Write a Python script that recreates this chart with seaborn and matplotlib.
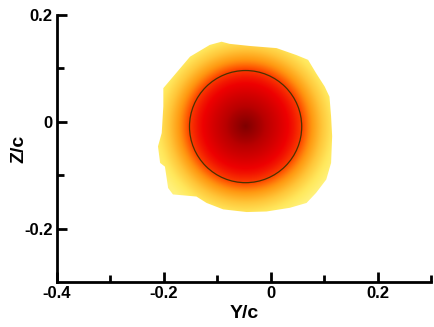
import numpy as np
import matplotlib
matplotlib.use("Agg")
import matplotlib.pyplot as plt
import seaborn as sns
from matplotlib.colors import LinearSegmentedColormap
from matplotlib.patches import Polygon, Circle
from matplotlib.ticker import FixedLocator, FixedFormatter

# Vortex core location and core radius (normalised by chord)
core_y, core_z = -0.047, -0.009
core_radius = 0.105

# Radial distribution of normalised axial vorticity about the core
profile_r = [0.0, 0.03, 0.06, 0.09, 0.105, 0.12, 0.14, 0.16, 0.18, 0.22]
profile_w = [1.0, 0.92, 0.82, 0.71, 0.64, 0.49, 0.33, 0.18, 0.06, 0.0]

# Outline of the measured region
edge_y = [-0.201, -0.151, -0.114, -0.092, -0.077, -0.039, 0.011, 0.048, 0.070,
          0.085, 0.101, 0.110, 0.113, 0.115, 0.113, 0.104, 0.085, 0.067, 0.036,
          -0.008, -0.045, -0.089, -0.120, -0.139, -0.183, -0.192, -0.198, -0.207,
          -0.211, -0.204, -0.201]
edge_z = [0.063, 0.122, 0.144, 0.150, 0.146, 0.142, 0.138, 0.125, 0.116,
          0.091, 0.066, 0.047, 0.010, -0.027, -0.077, -0.108, -0.133, -0.152,
          -0.161, -0.168, -0.169, -0.164, -0.152, -0.140, -0.136, -0.124, -0.084,
          -0.077, -0.046, -0.021, 0.029]

# Axis ticks
x_major = [-0.4, -0.2, 0.0, 0.2]
x_major_labels = ["-0.4", "-0.2", "0", "0.2"]
x_minor = [-0.3, -0.1, 0.1, 0.3]
y_major = [-0.2, 0.0, 0.2]
y_major_labels = ["-0.2", "0", "0.2"]
y_minor = [-0.1, 0.1]

sns.set_style("ticks", {"text.color": "black", "axes.labelcolor": "black",
                        "xtick.color": "black", "ytick.color": "black",
                        "axes.edgecolor": "black"})
plt.rcParams["font.family"] = ["Liberation Sans", "DejaVu Sans"]
plt.rcParams["font.weight"] = "bold"
plt.rcParams["axes.unicode_minus"] = False

vort_cmap = LinearSegmentedColormap.from_list(
    "vort",
    [(0.00, "#FFF68A"), (0.15, "#FFE95E"), (0.30, "#FFC73A"),
     (0.45, "#FF9A12"), (0.60, "#FF5200"), (0.75, "#EE0000"),
     (0.90, "#B80000"), (1.00, "#800000")],
)

fig = plt.figure(figsize=(4.34, 3.27), dpi=100)
ax = fig.add_axes([57 / 434, 1 - 282 / 327, 374 / 434, 267 / 327])

# Vorticity field on a regular grid
y_lo, y_hi, z_lo, z_hi = -0.25, 0.15, -0.22, 0.20
gy = np.linspace(y_lo, y_hi, 500)
gz = np.linspace(z_lo, z_hi, 500)
YY, ZZ = np.meshgrid(gy, gz)
RR = np.hypot(YY - core_y, ZZ - core_z)
WW = np.interp(RR, profile_r, profile_w)

img = ax.imshow(WW, origin="lower", extent=(y_lo, y_hi, z_lo, z_hi),
                cmap=vort_cmap, vmin=0, vmax=1, interpolation="bilinear",
                aspect="auto")
outline = Polygon(np.column_stack([edge_y, edge_z]), closed=True,
                  transform=ax.transData)
img.set_clip_path(outline)

# Vortex core boundary
ax.add_patch(Circle((core_y, core_z), core_radius, fill=False,
                    edgecolor="#4A3300", linewidth=0.9))

ax.set_xlim(-0.4, 0.3)
ax.set_ylim(-0.3, 0.2)

ax.xaxis.set_major_locator(FixedLocator(x_major))
ax.xaxis.set_major_formatter(FixedFormatter(x_major_labels))
ax.xaxis.set_minor_locator(FixedLocator(x_minor))
ax.yaxis.set_major_locator(FixedLocator(y_major))
ax.yaxis.set_major_formatter(FixedFormatter(y_major_labels))
ax.yaxis.set_minor_locator(FixedLocator(y_minor))

sns.despine(ax=ax)
for side in ("left", "bottom"):
    ax.spines[side].set_linewidth(2.0)
    ax.spines[side].set_color("black")

ax.tick_params(which="major", direction="in", length=7, width=2.0,
               labelsize=12, pad=3, color="black", labelcolor="black")
ax.tick_params(which="minor", direction="in", length=5, width=2.0,
               color="black")
for lab in ax.get_xticklabels() + ax.get_yticklabels():
    lab.set_fontweight("bold")

ax.set_xlabel("Y/c", fontsize=14, fontweight="bold", labelpad=3,
              color="black")
ax.set_ylabel("Z/c", fontsize=14, fontweight="bold", color="black")
ax.yaxis.set_label_coords(-0.08, 0.5)

fig.savefig("out.png", dpi=100)
